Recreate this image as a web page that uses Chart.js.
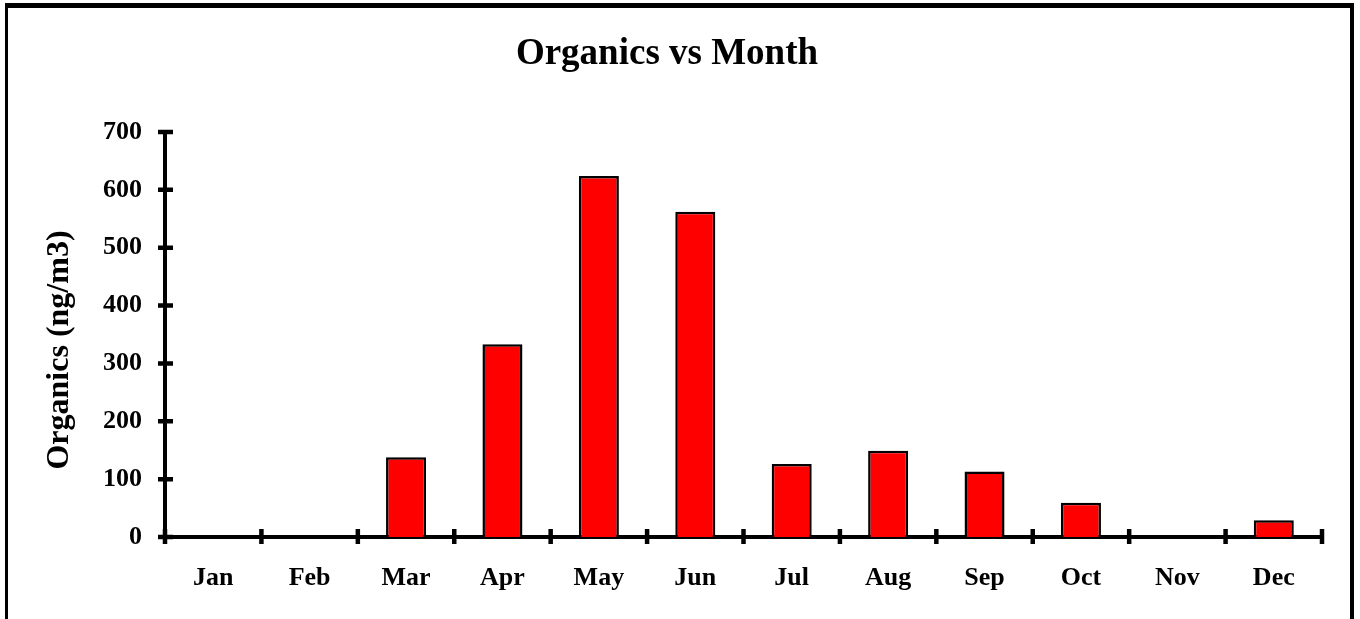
<!DOCTYPE html>
<html>
<head>
<meta charset="utf-8">
<script src="https://cdn.jsdelivr.net/npm/chart.js@4"></script>
<style>
  body { margin: 0; background: #fff; overflow: hidden; }
  #wrap { position: relative; width: 1360px; height: 619px; }
  #frame {
    position: absolute; left: 5px; top: 3px; width: 1349px; height: 700px;
    box-sizing: border-box; border-top: 5px solid #000; border-left: 3px solid #000;
    border-right: 4px solid #000; pointer-events: none;
  }
</style>
</head>
<body>
<div id="wrap">
  <canvas id="chart" width="1360" height="619"></canvas>
  <div id="frame"></div>
</div>
<script>
// data
const months = ['Jan', 'Feb', 'Mar', 'Apr', 'May', 'Jun', 'Jul', 'Aug', 'Sep', 'Oct', 'Nov', 'Dec'];
const organics = [null, null, 138, 333, 624, 562, 126, 149, 113, 59, null, 29];
const yTicks = [0, 100, 200, 300, 400, 500, 600, 700];

const FONT = '"Liberation Serif", "Times New Roman", serif';

// Excel-style ticks that cross the axis lines, plus the two titles
const excelBits = {
  id: 'excelBits',
  afterDraw(chart) {
    const { ctx, scales: { x, y } } = chart;
    ctx.save();
    ctx.strokeStyle = '#000';
    ctx.lineWidth = 4.5;
    ctx.beginPath();
    yTicks.forEach(v => {
      const py = y.getPixelForValue(v);
      ctx.moveTo(x.left - 7, py);
      ctx.lineTo(x.left + 8, py);
    });
    const step = (x.right - x.left) / months.length;
    for (let k = 0; k <= months.length; k++) {
      const px = x.left + k * step;
      ctx.moveTo(px, y.bottom - 8);
      ctx.lineTo(px, y.bottom + 7);
    }
    ctx.stroke();

    ctx.fillStyle = '#000';
    ctx.textAlign = 'center';
    ctx.textBaseline = 'alphabetic';
    ctx.font = 'bold 37px ' + FONT;
    ctx.fillText('Organics vs Month', 667, 64);

    ctx.translate(68, 350);
    ctx.rotate(-Math.PI / 2);
    ctx.font = 'bold 32px ' + FONT;
    ctx.fillText('Organics (ng/m3)', 0, 0);
    ctx.restore();
  }
};

new Chart(document.getElementById('chart'), {
  type: 'bar',
  data: {
    labels: months,
    datasets: [{
      data: organics,
      backgroundColor: '#ff0000',
      borderColor: '#000',
      borderWidth: 2.5,
      categoryPercentage: 1,
      barPercentage: 0.415,
    }],
  },
  options: {
    responsive: false,
    animation: false,
    layout: { padding: { left: 0, right: 38, top: 132, bottom: 0 } },
    plugins: {
      legend: { display: false },
      tooltip: { enabled: false },
    },
    scales: {
      x: {
        offset: true,
        grid: { display: false, drawTicks: false },
        border: { display: true, color: '#000', width: 4 },
        ticks: { color: '#000', padding: 26, font: { family: FONT, size: 26, weight: 'bold' } },
        afterFit(s) { s.height = 82; },
      },
      y: {
        min: 0,
        max: 700,
        grid: { display: false, drawTicks: false },
        border: { display: true, color: '#000', width: 4 },
        ticks: {
          stepSize: 100,
          color: '#000',
          padding: 23,
          font: { family: FONT, size: 26, weight: 'bold' },
        },
        afterFit(s) { s.width = 165; },
      },
    },
  },
  plugins: [excelBits],
});
</script>
</body>
</html>
